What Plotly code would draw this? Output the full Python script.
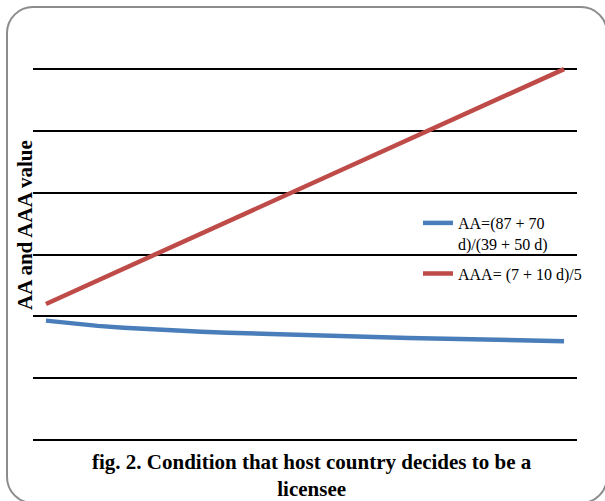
import plotly.graph_objects as go

# ---- data ----
d_values = [0.0, 0.1, 0.2, 0.3, 0.4, 0.5, 0.6, 0.7, 0.8, 0.9, 1.0,
            1.1, 1.2, 1.3, 1.4, 1.5, 1.6, 1.7, 1.8, 1.9, 2.0]
aa_values = [1.93, 1.88, 1.845, 1.815, 1.79, 1.77, 1.75, 1.735, 1.72, 1.705, 1.69,
             1.68, 1.67, 1.66, 1.65, 1.64, 1.63, 1.62, 1.612, 1.604, 1.596]
aaa_values = [2.20, 2.39, 2.58, 2.77, 2.96, 3.15, 3.34, 3.53, 3.72, 3.91, 4.10,
              4.29, 4.48, 4.67, 4.86, 5.05, 5.24, 5.43, 5.62, 5.81, 6.00]
series_names = ["AA=(87 + 70<br>d)/(39 + 50 d)", "AAA= (7 + 10 d)/5"]
y_title = "AA and AAA value"
caption = "fig. 2. Condition that host country decides to be a<br>licensee"
y_ticks = [0, 1, 2, 3, 4, 5, 6]

W, H = 605, 501
ML, MR, MT, MB = 33, 28, 66, 58
PW, PH = W - ML - MR, H - MT - MB


def px_x(p):
    return (p - ML) / PW


def px_y(p):
    return (H - MB - p) / PH


font_family = "Liberation Serif, Times New Roman, serif"

fig = go.Figure()
idx = list(range(len(d_values)))
fig.add_trace(go.Scatter(x=idx, y=aa_values, mode="lines", name=series_names[0],
                         legendgroup="aa",
                         line=dict(color="#4A7EBB", width=4.5)))
fig.add_trace(go.Scatter(x=idx, y=aaa_values, mode="lines", name=series_names[1],
                         legendgroup="aaa",
                         line=dict(color="#BE4B48", width=4.5)))

# rounded border
x0, y0, x1, y1, r = 7, 7, 607, 503, 26
k = 0.5523 * r


def P(a, b):
    return f"{px_x(a):.5f},{px_y(b):.5f}"


path = (f"M {P(x0 + r, y0)} L {P(x1 - r, y0)} "
        f"C {P(x1 - r + k, y0)} {P(x1, y0 + r - k)} {P(x1, y0 + r)} "
        f"L {P(x1, y1 - r)} "
        f"C {P(x1, y1 - r + k)} {P(x1 - r + k, y1)} {P(x1 - r, y1)} "
        f"L {P(x0 + r, y1)} "
        f"C {P(x0 + r - k, y1)} {P(x0, y1 - r + k)} {P(x0, y1 - r)} "
        f"L {P(x0, y0 + r)} "
        f"C {P(x0, y0 + r - k)} {P(x0 + r - k, y0)} {P(x0 + r, y0)} Z")
fig.add_shape(type="path", path=path, xref="paper", yref="paper",
              line=dict(color="#8c8c8c", width=2), fillcolor="rgba(0,0,0,0)")

fig.add_annotation(text=f"<b>{y_title}</b>", textangle=-90, xref="paper", yref="paper",
                   x=px_x(25), y=px_y(225), xanchor="center", yanchor="middle",
                   showarrow=False,
                   font=dict(family=font_family, size=21, color="black"))
fig.add_annotation(text=f"<b>{caption}</b>", xref="paper", yref="paper",
                   x=px_x(312), y=px_y(476), xanchor="center", yanchor="middle",
                   showarrow=False,
                   font=dict(family=font_family, size=21, color="black"))

fig.update_layout(
    width=W, height=H,
    margin=dict(l=ML, r=MR, t=MT, b=MB),
    paper_bgcolor="white", plot_bgcolor="rgba(0,0,0,0)",
    font=dict(family=font_family, size=16, color="black"),
    showlegend=True,
    legend=dict(x=px_x(418), y=px_y(206), xanchor="left", yanchor="top",
                bgcolor="rgba(0,0,0,0)", valign="top",
                font=dict(family=font_family, size=16, color="black"),
                tracegroupgap=6),
    xaxis=dict(range=[-0.5, len(d_values) - 0.5], showgrid=False, zeroline=False,
               showticklabels=False, ticks="", showline=False),
    yaxis=dict(range=[-0.05, 6.05], tickvals=y_ticks, showgrid=True, gridcolor="black",
               gridwidth=2, zeroline=False, showticklabels=False, ticks="", showline=False),
)

fig.write_html("out.html", config={"displayModeBar": False},
               post_script="document.body.style.margin='0px';")
